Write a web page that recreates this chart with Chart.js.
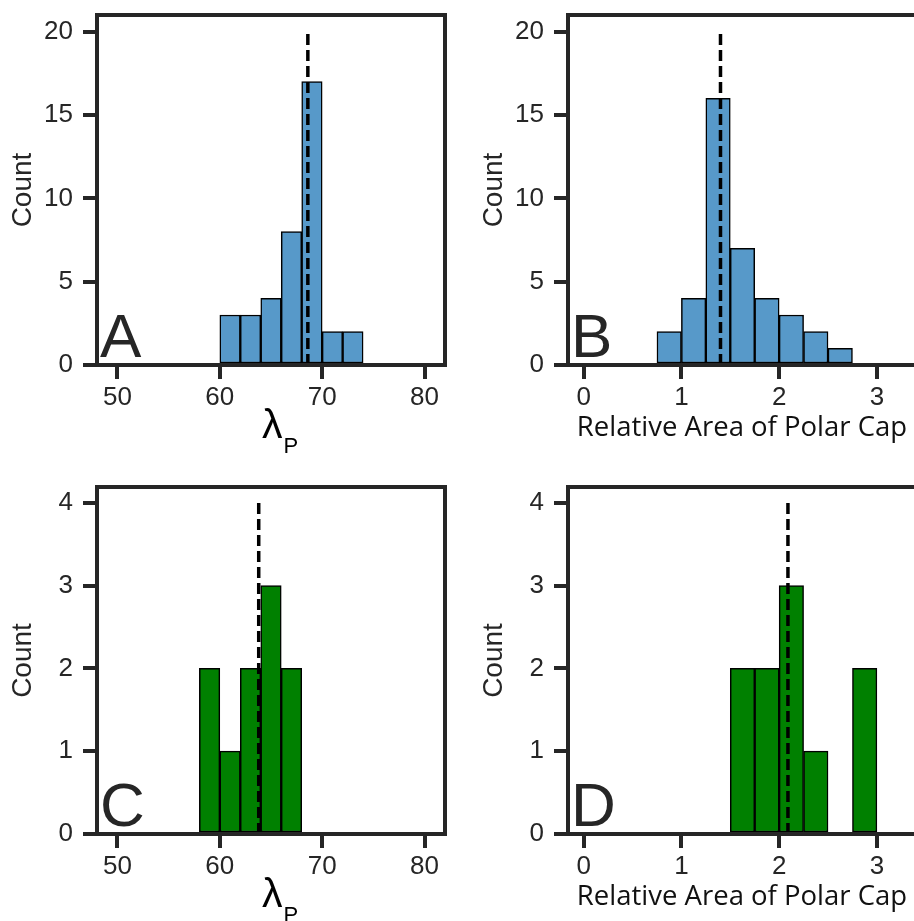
<!DOCTYPE html>
<html>
<head>
<meta charset="utf-8">
<script src="https://cdn.jsdelivr.net/npm/chart.js@4.4.1/dist/chart.umd.min.js"></script>
<style>
  html, body { margin: 0; padding: 0; background: #fff; overflow: hidden; }
  body { width: 914px; height: 921px; position: relative; }
  .panel { position: absolute; }
  #boxA { left: 0; top: 0; width: 457px; height: 460px; }
  #boxB { left: 457px; top: 0; width: 470px; height: 460px; }
  #boxC { left: 0; top: 460px; width: 457px; height: 461px; }
  #boxD { left: 457px; top: 460px; width: 470px; height: 461px; }
</style>
</head>
<body>
<div class="panel" id="boxA"><canvas id="chartA"></canvas></div>
<div class="panel" id="boxB"><canvas id="chartB"></canvas></div>
<div class="panel" id="boxC"><canvas id="chartC"></canvas></div>
<div class="panel" id="boxD"><canvas id="chartD"></canvas></div>

<script>
// histogram bins (edges) and counts
var lambdaEdgesA = [60, 62, 64, 66, 68, 70, 72, 74];
var lambdaCountsA = [3, 3, 4, 8, 17, 2, 2];
var areaEdgesB = [0.75, 1.0, 1.25, 1.5, 1.75, 2.0, 2.25, 2.5, 2.75];
var areaCountsB = [2, 4, 16, 7, 4, 3, 2, 1];
var lambdaEdgesC = [58, 60, 62, 64, 66, 68];
var lambdaCountsC = [2, 1, 2, 3, 2];
var areaEdgesD = [1.5, 1.75, 2.0, 2.25, 2.5, 2.75, 3.0];
var areaCountsD = [2, 2, 3, 1, 0, 2];

// dashed reference lines (x position, top of line)
var meanA = 68.6, meanB = 1.40, meanC = 63.8, meanD = 2.09;
var dashTopUpper = 20, dashTopLower = 4;

// tick labels
var lambdaTicks = [50, 60, 70, 80];
var areaTicks = [0, 1, 2, 3];
var countTicksUpper = [0, 5, 10, 15, 20];
var countTicksLower = [0, 1, 2, 3, 4];

var ink = '#262626';
var sans = '"Liberation Sans", Arial, sans-serif';

// frame, panel letter and the lambda_P label
var panelDecor = {
    id: 'panelDecor',
    afterDraw: function(chart, args, opts) {
        var ctx = chart.ctx, a = chart.chartArea;
        ctx.save();
        ctx.strokeStyle = ink;
        ctx.lineWidth = 4;
        ctx.strokeRect(a.left, a.top, a.right - a.left, a.bottom - a.top);
        ctx.fillStyle = ink;
        ctx.textAlign = 'left';
        ctx.textBaseline = 'alphabetic';
        ctx.font = '62px ' + sans;
        ctx.fillText(opts.letter, a.left + 3, a.bottom - 8);
        if (opts.lambda) {
            var cx = (a.left + a.right) / 2 - 9;
            ctx.fillStyle = '#000';
            ctx.font = '41px ' + sans;
            ctx.fillText('λ', cx, a.bottom + 73);
            var w = ctx.measureText('λ').width;
            ctx.font = '22px ' + sans;
            ctx.fillText('P', cx + w + 1, a.bottom + 88);
        }
        ctx.restore();
    }
};

function makeHist(id, o) {
    var bars = [];
    for (var i = 0; i < o.counts.length; i++) {
        bars.push({x: (o.edges[i] + o.edges[i + 1]) / 2, y: o.counts[i]});
    }
    return new Chart(document.getElementById(id), {
        type: 'bar',
        data: {
            datasets: [{
                type: 'line',
                data: [{x: o.mean, y: 0}, {x: o.mean, y: o.lineTop}],
                borderColor: '#000',
                borderWidth: 3.5,
                borderDash: [11, 5],
                pointRadius: 0,
                order: 0
            }, {
                type: 'bar',
                data: bars,
                backgroundColor: o.color,
                borderColor: '#000',
                borderWidth: 1.5,
                borderSkipped: false,
                barPercentage: 1,
                categoryPercentage: 1,
                order: 1
            }]
        },
        options: {
            responsive: true,
            maintainAspectRatio: false,
            animation: false,
            devicePixelRatio: 1,
            layout: { padding: o.pad },
            plugins: {
                legend: { display: false },
                tooltip: { enabled: false },
                panelDecor: { letter: o.letter, lambda: o.lambda }
            },
            scales: {
                x: {
                    type: 'linear',
                    min: o.xmin,
                    max: o.xmax,
                    offset: false,
                    grid: { display: true, offset: false, drawOnChartArea: false, drawTicks: true,
                            tickLength: 14, lineWidth: 4, color: ink },
                    border: { display: false },
                    ticks: { color: ink, font: { family: sans, size: 26 }, padding: 3,
                             maxRotation: 0, autoSkip: false },
                    afterBuildTicks: function(s) { s.ticks = o.xticks.map(function(v) { return {value: v}; }); },
                    afterFit: function(s) { s.height = 87; s.paddingLeft = 0; s.paddingRight = 0; },
                    title: {
                        display: !o.lambda,
                        text: 'Relative Area of Polar Cap',
                        color: '#111',
                        font: { family: '"Open Sans", "Noto Sans", sans-serif', size: 27.5 },
                        padding: { top: 0, bottom: 7 }
                    }
                },
                y: {
                    min: 0,
                    max: o.ymax,
                    grid: { display: true, drawOnChartArea: false, drawTicks: true,
                            tickLength: 14, lineWidth: 4, color: ink },
                    border: { display: false },
                    ticks: { color: ink, font: { family: sans, size: 26 }, padding: 10 },
                    afterBuildTicks: function(s) { s.ticks = o.yticks.map(function(v) { return {value: v}; }); },
                    afterFit: function(s) { s.width = 97; s.paddingTop = 0; s.paddingBottom = 0; },
                    title: {
                        display: true,
                        text: 'Count',
                        color: ink,
                        font: { family: sans, size: 28 },
                        padding: { top: 6, bottom: 0 }
                    }
                }
            }
        },
        plugins: [panelDecor]
    });
}

var blue = '#5799c9';
var green = '#008000';

makeHist('chartA', { edges: lambdaEdgesA, counts: lambdaCountsA, mean: meanA, lineTop: dashTopUpper,
    color: blue, letter: 'A', lambda: true, xmin: 48, xmax: 82, ymax: 21,
    xticks: lambdaTicks, yticks: countTicksUpper,
    pad: { left: 0, top: 15, right: 12, bottom: 8 } });
makeHist('chartB', { edges: areaEdgesB, counts: areaCountsB, mean: meanB, lineTop: dashTopUpper,
    color: blue, letter: 'B', lambda: false, xmin: -0.16, xmax: 3.4, ymax: 21,
    xticks: areaTicks, yticks: countTicksUpper,
    pad: { left: 14, top: 15, right: 11, bottom: 8 } });
makeHist('chartC', { edges: lambdaEdgesC, counts: lambdaCountsC, mean: meanC, lineTop: dashTopLower,
    color: green, letter: 'C', lambda: true, xmin: 48, xmax: 82, ymax: 4.19,
    xticks: lambdaTicks, yticks: countTicksLower,
    pad: { left: 0, top: 27, right: 12, bottom: 0 } });
makeHist('chartD', { edges: areaEdgesD, counts: areaCountsD, mean: meanD, lineTop: dashTopLower,
    color: green, letter: 'D', lambda: false, xmin: -0.16, xmax: 3.4, ymax: 4.19,
    xticks: areaTicks, yticks: countTicksLower,
    pad: { left: 14, top: 27, right: 11, bottom: 0 } });
</script>
</body>
</html>
